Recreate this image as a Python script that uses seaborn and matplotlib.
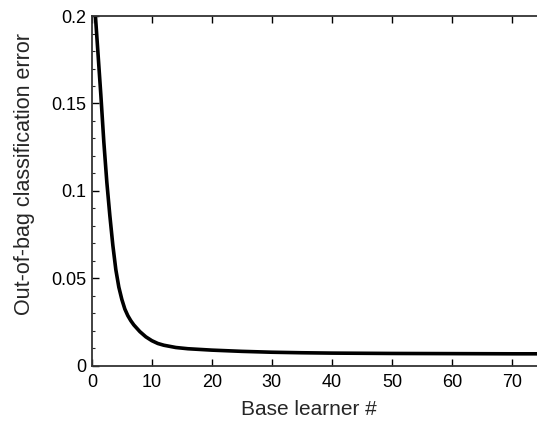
"""
Out-of-bag classification error versus number of base learners.
"""

import matplotlib
matplotlib.use("Agg")
import matplotlib.pyplot as plt
from matplotlib.ticker import MultipleLocator
import pandas as pd
import seaborn as sns

# values
learners = [0.5, 1.0, 1.5, 2.0, 2.5, 3.0, 3.5, 4.0, 4.5, 5.0, 5.5, 6.0,
            6.5, 7.0, 8.0, 9.0, 10.0, 11.0, 12.0, 14.0, 16.0, 20.0, 25.0,
            30.0, 35.0, 40.0, 50.0, 60.0, 70.0, 80.0]
oob_error = [0.205, 0.18, 0.155, 0.128, 0.105, 0.086, 0.069, 0.055, 0.045,
             0.038, 0.0325, 0.0287, 0.0258, 0.0234, 0.0196, 0.0166, 0.0144,
             0.0128, 0.0118, 0.0105, 0.0098, 0.0090, 0.0083, 0.0078,
             0.0075, 0.0073, 0.0071, 0.0070, 0.0069, 0.0069]
x_ticks = [0, 10, 20, 30, 40, 50, 60, 70]
y_ticks = [0, 0.05, 0.1, 0.15, 0.2]
y_tick_labels = ["0", "0.05", "0.1", "0.15", "0.2"]

sns.set_style("ticks")
plt.rcParams["font.family"] = ["Liberation Sans", "DejaVu Sans"]

df = pd.DataFrame({"learners": learners, "error": oob_error})

fig = plt.figure(figsize=(5.37, 4.22), dpi=100)
# axes run past the right edge, as in the cropped reference
ax = fig.add_axes([0.171, 0.133, 0.894, 0.829])

sns.lineplot(data=df, x="learners", y="error", color="black",
             linewidth=2.6, ax=ax)

ax.set_xlim(0, 80)
ax.set_ylim(0, 0.2)
ax.set_xticks(x_ticks)
ax.set_yticks(y_ticks)
ax.set_yticklabels(y_tick_labels)
ax.yaxis.set_minor_locator(MultipleLocator(0.01))

ax.tick_params(axis="both", which="major", direction="in", length=5,
               width=1.0, labelsize=13, top=True, colors="black")
ax.tick_params(axis="y", which="minor", direction="in", length=2.5,
               width=0.8)
ax.tick_params(axis="x", which="major", pad=6)
ax.tick_params(axis="y", which="major", pad=4)

for side in ["left", "bottom", "top"]:
    ax.spines[side].set_visible(True)
    ax.spines[side].set_linewidth(1.3)
    ax.spines[side].set_color("#333333")
ax.spines["right"].set_visible(False)

ax.set_xlabel("Base learner #", fontsize=15)
ax.set_ylabel("Out-of-bag classification error", fontsize=15.5)
ax.xaxis.set_label_coords(0.452, -0.097)
ax.yaxis.set_label_coords(-0.119, 0.549)

fig.savefig("out.png", dpi=100)
plt.close(fig)
